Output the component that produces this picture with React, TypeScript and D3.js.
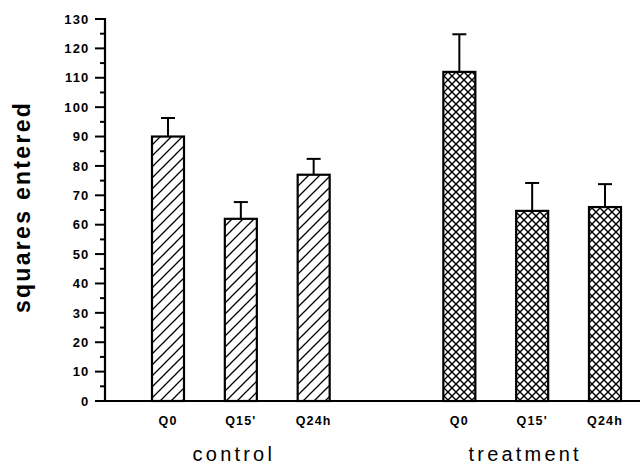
import * as d3 from "d3";

const groups = ["control", "treatment"];
const conditions = ["Q0", "Q15'", "Q24h"];
const controlMeans = [90, 62, 77];
const controlErrors = [6.3, 5.7, 5.4];
const treatmentMeans = [112, 64.7, 66];
const treatmentErrors = [12.8, 9.5, 7.8];
const yTicks = d3.range(0, 131, 10);
const yMinorTicks = d3.range(5, 130, 10);

const width = 640;
const height = 465;
const margin = { top: 19, right: 0, bottom: 64, left: 105 };

const App = () => {
  const y = d3
    .scaleLinear()
    .domain([0, 130])
    .range([height - margin.bottom, margin.top]);

  // slot index: 0..2 control, 4..6 treatment (3 is the gap)
  const x = d3.scaleLinear().domain([0, 6]).range([168, 605]);
  const barW = 32;
  const capW = 14;

  const bars = [
    ...controlMeans.map((v, i) => ({ g: 0, label: conditions[i], slot: i, value: v, err: controlErrors[i] })),
    ...treatmentMeans.map((v, i) => ({ g: 1, label: conditions[i], slot: i + 4, value: v, err: treatmentErrors[i] })),
  ];

  const base = y(0);
  const font = "Liberation Sans, Arial, sans-serif";

  return (
    <svg width={width} height={height} style={{ display: "block", position: "absolute", left: 0, top: 0, background: "#fff" }}>
      <defs>
        <pattern id="diag" patternUnits="userSpaceOnUse" width="11" height="11">
          <path d="M-1,12 L12,-1 M-6,6 L6,-6 M5,17 L17,5" stroke="#000" strokeWidth="1.3" />
        </pattern>
        <pattern id="cross" patternUnits="userSpaceOnUse" width="8" height="8">
          <path d="M0,0 L8,8 M8,0 L0,8" stroke="#000" strokeWidth="1.4" />
        </pattern>
      </defs>

      {/* y axis */}
      <line x1={margin.left} x2={margin.left} y1={y(130) - 1} y2={base + 1} stroke="#000" strokeWidth={2.2} />
      {yTicks.map((t) => (
        <g key={t}>
          <line x1={margin.left - 10} x2={margin.left} y1={y(t)} y2={y(t)} stroke="#000" strokeWidth={2} />
          <text
            x={89.5}
            y={y(t)}
            dy="0.36em"
            textAnchor="end"
            fontFamily={font}
            fontWeight="bold"
            fontSize={13}
            letterSpacing={1.2}
          >
            {t}
          </text>
        </g>
      ))}
      {yMinorTicks.map((t) => (
        <line key={t} x1={margin.left - 5} x2={margin.left} y1={y(t)} y2={y(t)} stroke="#000" strokeWidth={2} />
      ))}

      {/* x baseline */}
      <line x1={margin.left - 10} x2={width} y1={base} y2={base} stroke="#000" strokeWidth={2.2} />

      {/* bars */}
      {bars.map((d, i) => (
        <g key={i}>
          <line x1={x(d.slot)} x2={x(d.slot)} y1={y(d.value)} y2={y(d.value + d.err)} stroke="#000" strokeWidth={2} />
          <line
            x1={x(d.slot) - capW / 2}
            x2={x(d.slot) + capW / 2}
            y1={y(d.value + d.err)}
            y2={y(d.value + d.err)}
            stroke="#000"
            strokeWidth={2}
          />
          <rect
            x={x(d.slot) - barW / 2}
            y={y(d.value)}
            width={barW}
            height={base - y(d.value)}
            fill={d.g === 0 ? "url(#diag)" : "url(#cross)"}
            stroke="#000"
            strokeWidth={2.2}
          />
          <text
            x={x(d.slot)}
            y={425}
            textAnchor="middle"
            fontFamily={font}
            fontWeight="bold"
            fontSize={12.5}
            letterSpacing={1.2}
          >
            {d.label}
          </text>
        </g>
      ))}

      {/* group labels */}
      {groups.map((g, gi) => (
        <text
          key={g}
          x={x(gi * 4 + 1) - 7}
          y={461}
          textAnchor="middle"
          fontFamily={font}
          fontSize={20}
          letterSpacing={3.2}
        >
          {g}
        </text>
      ))}

      {/* y title */}
      <text
        transform="translate(30,207) rotate(-90)"
        textAnchor="middle"
        fontFamily={font}
        fontWeight="bold"
        fontSize={23}
        letterSpacing={2.3}
      >
        squares entered
      </text>
    </svg>
  );
};

export default App;
